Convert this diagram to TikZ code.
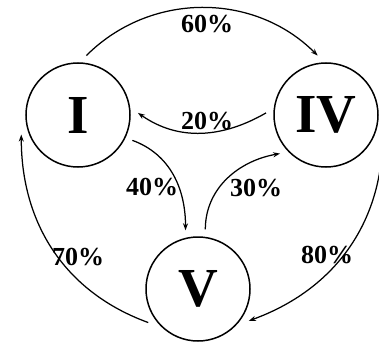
\documentclass[tikz,border=0pt]{standalone}
\usepackage{fontspec}
\setmainfont{Liberation Serif}
\usetikzlibrary{arrows.meta}

\begin{document}
\begin{tikzpicture}[x=1pt, y=1pt,
  state/.style={circle, draw, line width=1.5pt, minimum size=104pt, inner sep=0pt,
                outer sep=8pt, font=\fontsize{55}{55}\selectfont\bfseries},
  arr/.style={-{Stealth[length=7pt,width=5pt]}, line width=1.25pt},
  pct/.style={font=\fontsize{26}{26}\selectfont\bfseries, inner sep=1pt},
]
  \useasboundingbox (0,0) rectangle (379,343);

  \node[state] (i)  at (78,228)  {I};
  \node[state] (iv) at (326,228) {IV};
  \node[state] (v)  at (198,54)  {V};

  \draw[arr] (i.82)   to[out=45,in=135]   (iv.98);
  \draw[arr] (iv.178) to[out=-150,in=-35] (i.2);
  \draw[arr] (i.-25)  to[out=-20,in=90]   (v.102);
  \draw[arr] (v.83)   to[out=90,in=190]   (iv.220);
  \draw[arr] (v.214)  to[out=160,in=-90]  (i.199);
  \draw[arr] (iv.-19) to[out=-90,in=20]   (v.-32);

  % percentages
  \node[pct] (p60) at (207,319) {60\%};
  \node[pct] (p20) at (207,222) {20\%};
  \node[pct] (p40) at (152,156) {40\%};
  \node[pct] (p30) at (256,155) {30\%};
  \node[pct] (p70) at (78,86)   {70\%};
  \node[pct] (p80) at (327,88)  {80\%};
\end{tikzpicture}
\end{document}
